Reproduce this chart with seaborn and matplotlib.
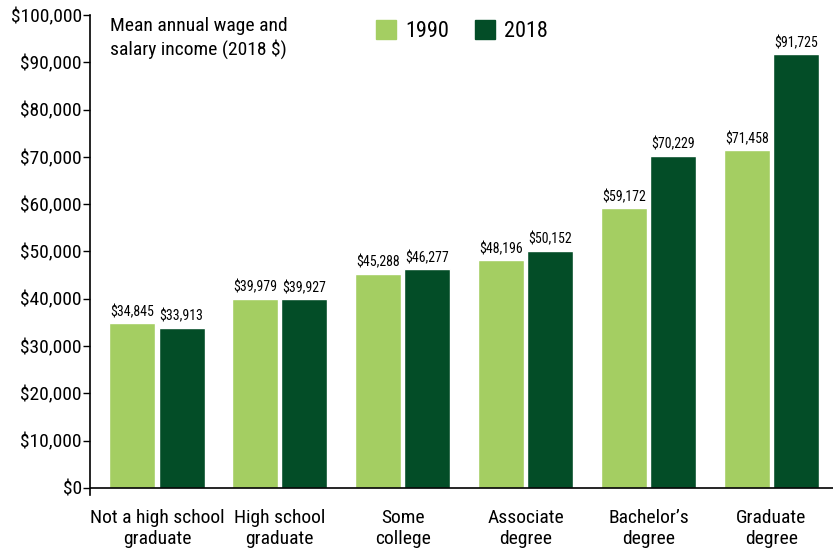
import seaborn as sns
import matplotlib.pyplot as plt
import pandas as pd
from matplotlib import font_manager
from matplotlib.patches import Patch

CATEGORIES = ["Not a high school\ngraduate", "High school\ngraduate", "Some\ncollege",
              "Associate\ndegree", "Bachelor\u2019s\ndegree", "Graduate\ndegree"]
YEARS = ["1990", "2018"]
WAGE_1990 = [34845, 39979, 45288, 48196, 59172, 71458]
WAGE_2018 = [33913, 39927, 46277, 50152, 70229, 91725]
Y_TICKS = [0, 10000, 20000, 30000, 40000, 50000, 60000, 70000, 80000, 90000, 100000]
COLORS = ["#a4ce62", "#034d27"]

# pick a narrow font if one is around
names = {f.name for f in font_manager.fontManager.ttflist}
family = [f for f in ["Roboto Condensed", "Liberation Sans Narrow", "Roboto", "DejaVu Sans"] if f in names]

sns.set_style("white")
plt.rcParams['font.family'] = family
plt.rcParams['text.color'] = "black"
plt.rcParams['xtick.color'] = "black"
plt.rcParams['ytick.color'] = "black"

df = pd.DataFrame({
    "category": CATEGORIES * 2,
    "year": [YEARS[0]] * len(CATEGORIES) + [YEARS[1]] * len(CATEGORIES),
    "wage": WAGE_1990 + WAGE_2018,
})

fig = plt.figure(figsize=(8.33, 5.56), dpi=100)
ax = fig.add_axes([0.108, 0.1097, 0.892, 0.8633])

sns.barplot(data=df, x="category", y="wage", hue="year", hue_order=YEARS,
            palette=COLORS, width=0.8, gap=0.065, saturation=1, ax=ax, legend=False)

for cont in ax.containers:
    ax.bar_label(cont, labels=[f"${v:,.0f}" for v in cont.datavalues],
                 padding=3, fontsize=10, color="black")

ax.set_xlim(-0.545, 5.5)
ax.set_ylim(-1500, 100000)
ax.set_yticks(Y_TICKS)
ax.set_yticklabels([f"${v:,}" for v in Y_TICKS], fontsize=14)
ax.tick_params(axis='y', direction='out', length=5, width=1, pad=1, left=True, color="black")
ax.tick_params(axis='x', length=0, pad=10, labelsize=14)
ax.set_xlabel("")
ax.set_ylabel("")

sns.despine(ax=ax, top=True, right=True, bottom=True)
ax.spines['left'].set_color("black")
ax.spines['left'].set_linewidth(1.2)
ax.axhline(0, color="black", linewidth=1.2, zorder=5)

ax.text(0.027, 0.995, "Mean annual wage and\nsalary income (2018 $)", transform=ax.transAxes,
        ha="left", va="top", fontsize=14, linespacing=1.25)

handles = [Patch(color=c) for c in COLORS]
ax.legend(handles, YEARS, loc="upper left", bbox_to_anchor=(0.370, 1.012), ncol=2, frameon=False,
          borderpad=0, fontsize=16, handlelength=0.9, handleheight=0.9, handletextpad=0.4,
          columnspacing=1.2)

fig.savefig("out.png", dpi=100)
